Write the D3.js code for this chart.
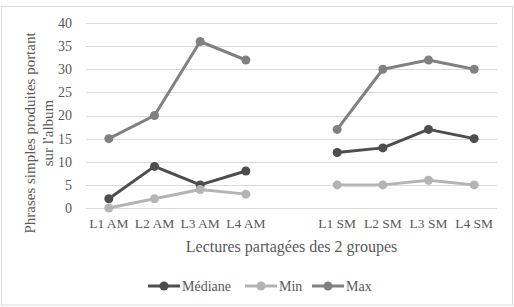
<!DOCTYPE html>
<html><head><meta charset="utf-8">
<script src="https://cdn.jsdelivr.net/npm/d3@7"></script>
<style>
html,body{margin:0;padding:0;background:#fff;}
svg{display:block;}
text{font-family:"Liberation Serif","Times New Roman",serif;fill:#595959;}
</style></head>
<body>
<svg id="c" width="514" height="307"></svg>
<script>
const categories = ["L1 AM","L2 AM","L3 AM","L4 AM","","L1 SM","L2 SM","L3 SM","L4 SM"];
const mediane = [2, 9, 5, 8, null, 12, 13, 17, 15];
const minVals = [0, 2, 4, 3, null, 5, 5, 6, 5];
const maxVals = [15, 20, 36, 32, null, 17, 30, 32, 30];
const yTicks = [0,5,10,15,20,25,30,35,40];
const seriesNames = ["Médiane","Min","Max"];
const seriesColors = ["#4d4d4d","#b4b4b4","#808080"];
const yTitleLines = ["Phrases simples produites portant","sur l'album"];
const xTitle = "Lectures partagées des 2 groupes";

const svg = d3.select("#c");
svg.append("rect").attr("x",1.5).attr("y",6.5).attr("width",511).attr("height",298.5)
  .attr("fill","#fff").attr("stroke","#d9d9d9").attr("stroke-width",1);

const L=86, R=497, T=23, B=208;
const x = d3.scaleBand().domain(categories.map((c,i)=>i)).range([L,R]);
const y = d3.scaleLinear().domain([0,40]).range([B,T]);

// gridlines
svg.append("g").selectAll("line").data(yTicks).join("line")
  .attr("x1",L).attr("x2",R).attr("y1",d=>Math.round(y(d))+0.5).attr("y2",d=>Math.round(y(d))+0.5)
  .attr("stroke","#d9d9d9").attr("stroke-width",1);

// y axis
const ya = svg.append("g").attr("transform",`translate(${L},0)`)
  .call(d3.axisLeft(y).tickValues(yTicks).tickSize(0).tickPadding(14));
ya.select(".domain").remove();
ya.selectAll("text").attr("font-size",14).attr("fill","#595959");

// x axis
const xa = svg.append("g").attr("transform",`translate(0,${B})`)
  .call(d3.axisBottom(x).tickFormat(i=>categories[i]).tickSize(0).tickPadding(10));
xa.select(".domain").remove();
xa.selectAll("text").attr("font-size",13.5).attr("fill","#595959");

// titles
svg.append("text").attr("x",(L+R)/2).attr("y",252).attr("text-anchor","middle")
  .attr("font-size",16).text(xTitle);
const yt = svg.append("text").attr("transform","translate(35,133) rotate(-90)").attr("text-anchor","middle").attr("font-size",15);
yt.append("tspan").attr("x",0).attr("y",0).text(yTitleLines[0]);
yt.append("tspan").attr("x",0).attr("y",18).text(yTitleLines[1]);

const series = [mediane, minVals, maxVals];
const cx = i => x(i) + x.bandwidth()/2;
series.forEach((vals,si)=>{
  const g = svg.append("g");
  const line = d3.line().defined(d=>d!=null).x((d,i)=>cx(i)).y(d=>y(d));
  g.append("path").datum(vals).attr("d",line).attr("fill","none")
    .attr("stroke",seriesColors[si]).attr("stroke-width",3).attr("stroke-linejoin","round");
  g.selectAll("circle").data(vals.map((v,i)=>({v,i})).filter(d=>d.v!=null)).join("circle")
    .attr("cx",d=>cx(d.i)).attr("cy",d=>y(d.v)).attr("r",4.5).attr("fill",seriesColors[si]);
});

// legend
const legX = [148, 245, 312];
const leg = svg.append("g");
seriesNames.forEach((n,i)=>{
  const lx = legX[i], ly = 286;
  leg.append("line").attr("x1",lx).attr("x2",lx+32).attr("y1",ly).attr("y2",ly)
    .attr("stroke",seriesColors[i]).attr("stroke-width",3);
  leg.append("circle").attr("cx",lx+16).attr("cy",ly).attr("r",4.5).attr("fill",seriesColors[i]);
  leg.append("text").attr("x",lx+34).attr("y",ly+5).attr("font-size",14).text(n);
});
</script>
</body></html>
